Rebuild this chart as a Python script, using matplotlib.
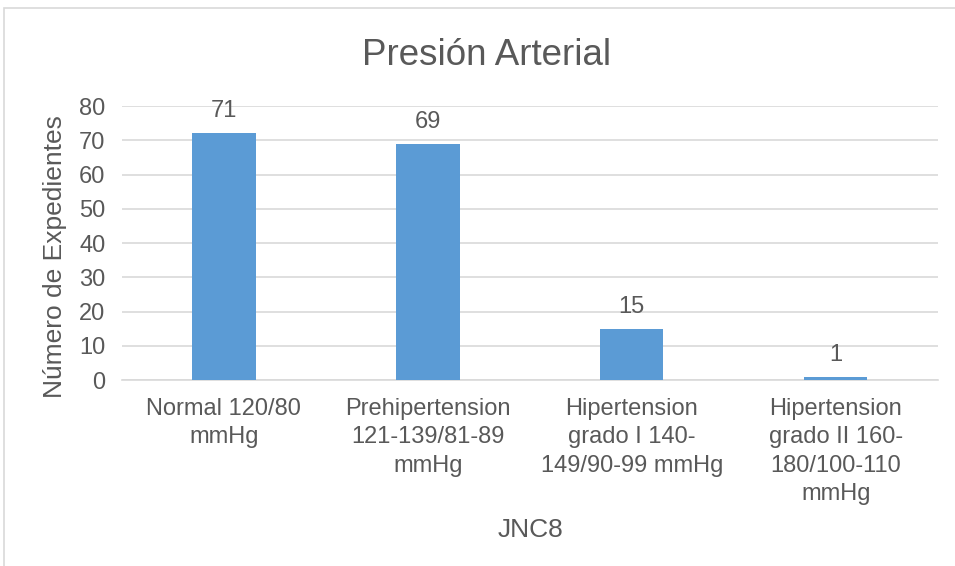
import matplotlib.pyplot as plt
from matplotlib.patches import Rectangle

# Data
categories = ["Normal 120/80\nmmHg",
              "Prehipertension\n121-139/81-89\nmmHg",
              "Hipertension\ngrado I 140-\n149/90-99 mmHg",
              "Hipertension\ngrado II 160-\n180/100-110\nmmHg"]
values = [72, 69, 15, 1]
value_labels = ["71", "69", "15", "1"]
y_ticks = [0, 10, 20, 30, 40, 50, 60, 70, 80]

text_color = "#595959"
bar_color = "#5B9BD5"
grid_color = "#D9D9D9"

plt.rcParams['font.family'] = ['Liberation Sans', 'DejaVu Sans']

fig = plt.figure(figsize=(9.55, 5.66), dpi=100)
ax = fig.add_axes([0.1277, 0.3286, 0.8543, 0.4841])

x = list(range(len(categories)))
ax.bar(x, values, width=0.31, color=bar_color, zorder=3)

for xi, v, lab in zip(x, values, value_labels):
    ax.annotate(lab, (xi, v), xytext=(0, 11.5), textcoords="offset points",
                ha="center", va="baseline", fontsize=17, color=text_color)

ax.set_xlim(-0.5, len(categories) - 0.5)
ax.set_ylim(0, 80)
ax.set_yticks(y_ticks)
ax.set_xticks(x)
ax.set_xticklabels(categories, fontsize=17, color=text_color, linespacing=1.37)
ax.tick_params(axis="y", labelsize=17, labelcolor=text_color, length=0, pad=12)
ax.tick_params(axis="x", length=0, pad=13)
ax.grid(axis="y", color=grid_color, linewidth=1.2, zorder=0)
for s in ["top", "right", "left"]:
    ax.spines[s].set_visible(False)
ax.spines["bottom"].set_color(grid_color)
ax.spines["bottom"].set_linewidth(1.2)

# axis titles and chart title
fig.text(0.555, 1 - 537 / 566, "JNC8", ha="center", va="baseline",
         fontsize=19, color=text_color)
fig.text(55 / 955, 1 - 257 / 566, "Número de Expedientes", rotation=90,
         ha="center", va="center", fontsize=19, color=text_color)
fig.text(0.51, 1 - 65 / 566, "Presión Arterial", ha="center", va="baseline",
         fontsize=26.5, color=text_color)

# chart border
fig.patches.append(Rectangle((0.004, -0.01), 1.01, 0.995, transform=fig.transFigure,
                             fill=False, edgecolor=grid_color, linewidth=1.2))

fig.savefig("out.png", dpi=100)
